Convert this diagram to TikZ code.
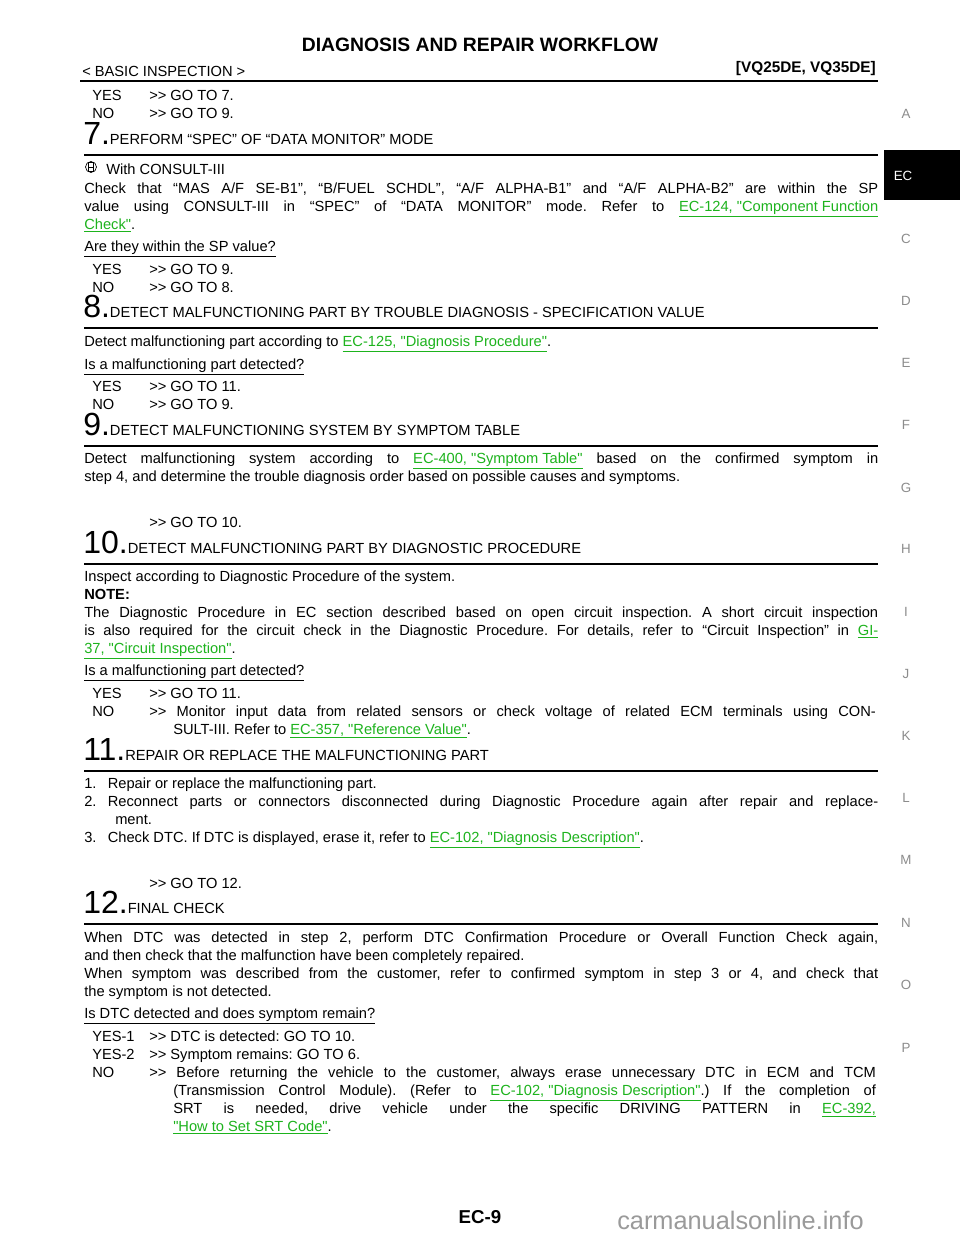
\documentclass[tikz,border=0pt]{standalone}
\usepackage{fontspec}
\setmainfont{Liberation Sans}
\newfontfamily\Lib{Liberation Sans}
\definecolor{lnk}{HTML}{1DB31D}
\definecolor{wm}{HTML}{9A9A9A}
\newcommand{\lk}[1]{\textcolor{lnk}{\underline{#1}}}
\tikzset{x=0.75pt,y=-0.75pt,
 txt/.style={anchor=base west,inner sep=0pt,font=\Lib\frenchspacing\fontsize{11}{13}\selectfont},
 tab/.style={anchor=center,inner sep=0pt,text=black!45,font=\Lib\fontsize{10}{12}\selectfont},
 rl/.style={line width=0.8pt}}
\newcommand{\Tx}[4]{\node[txt] (#1) at (#2,#3) {#4};}
\newcommand{\Jx}[3]{\node[txt] (#1) at (84,#2) {\makebox[595.5pt][s]{#3}};}
\newcommand{\YN}[4]{\node[txt] (#1a) at (92,#2) {#3}; \node[txt] (#1b) at (149,#2) {#4};}
\newcommand{\Hd}[4]{\node[txt] (#1) at (83,#2) {\fontsize{24}{24}\selectfont #3\fontsize{11}{13}\selectfont #4};}
\begin{document}
\begin{tikzpicture}
\useasboundingbox (0,0) rectangle (960,1242);
\fill[white] (0,0) rectangle (960,1242);
% header
\node[anchor=base,inner sep=0pt,font=\Lib\fontsize{14.5}{16}\selectfont\bfseries] (title) at (480,51) {DIAGNOSIS AND REPAIR WORKFLOW};
\Tx{sec}{82}{76}{< BASIC INSPECTION >}
\node[anchor=base east,inner sep=0pt,font=\Lib\fontsize{11.5}{13}\selectfont\bfseries] (eng) at (876,72) {[VQ25DE, VQ35DE]};
\draw[line width=1.6pt] (80,81) -- (878,81);
% tabs
\fill[black] (884,150) rectangle (960,200);
\node[tab,text=white] (tEC) at (903,176) {EC};
\foreach \l/\yy in {A/114,C/239,D/301,E/363,F/425,G/488,H/549,I/612,J/674,K/736,L/798,M/860,N/923,O/985,P/1048}
  \node[tab] (t\l) at (906,\yy) {\l};
% body
\YN{y6}{100}{YES}{>> GO TO 7.}
\YN{n6}{118}{NO}{>> GO TO 9.}
\Hd{h7}{144}{7.}{PERFORM “SPEC” OF “DATA MONITOR” MODE}
\draw[rl] (84,155) -- (878,155);
\draw[line width=0.5pt] (91,167) circle (5.5);
\draw[line width=0.5pt] (88.5,162.5) rectangle (93.5,171.5) (88.5,167) -- (93.5,167);
\Tx{wc}{106}{174}{With CONSULT-III}
\Jx{c1}{193}{Check that “MAS A/F SE-B1”, “B/FUEL SCHDL”, “A/F ALPHA-B1” and “A/F ALPHA-B2” are within the SP}
\Jx{c2}{211}{value using CONSULT-III in “SPEC” of “DATA MONITOR” mode. Refer to \lk{EC-124, "Component Function}}
\Tx{c3}{84}{229}{\lk{Check"}.}
\Tx{q7}{84}{251}{\underline{Are they within the SP value?}}
\YN{y7}{274}{YES}{>> GO TO 9.}
\YN{n7}{292}{NO}{>> GO TO 8.}
\Hd{h8}{317}{8.}{DETECT MALFUNCTIONING PART BY TROUBLE DIAGNOSIS - SPECIFICATION VALUE}
\draw[rl] (84,328) -- (878,328);
\Tx{d8}{84}{346}{Detect malfunctioning part according to \lk{EC-125, "Diagnosis Procedure"}.}
\Tx{q8}{84}{369}{\underline{Is a malfunctioning part detected?}}
\YN{y8}{391}{YES}{>> GO TO 11.}
\YN{n8}{409}{NO}{>> GO TO 9.}
\Hd{h9}{435}{9.}{DETECT MALFUNCTIONING SYSTEM BY SYMPTOM TABLE}
\draw[rl] (84,446) -- (878,446);
\Jx{d9a}{463}{Detect malfunctioning system according to \lk{EC-400, "Symptom Table"} based on the confirmed symptom in}
\Tx{d9b}{84}{481}{step 4, and determine the trouble diagnosis order based on possible causes and symptoms.}
\Tx{g9}{149}{527}{>> GO TO 10.}
\Hd{h10}{553}{10.}{DETECT MALFUNCTIONING PART BY DIAGNOSTIC PROCEDURE}
\draw[rl] (84,564) -- (878,564);
\Tx{i10}{84}{581}{Inspect according to Diagnostic Procedure of the system.}
\node[txt,font=\Lib\fontsize{11}{13}\selectfont\bfseries] (note) at (84,599) {NOTE:};
\Jx{n10a}{617}{The Diagnostic Procedure in EC section described based on open circuit inspection. A short circuit inspection}
\Jx{n10b}{635}{is also required for the circuit check in the Diagnostic Procedure. For details, refer to “Circuit Inspection” in \lk{GI-}}
\Tx{n10c}{84}{653}{\lk{37, "Circuit Inspection"}.}
\Tx{q10}{84}{675}{\underline{Is a malfunctioning part detected?}}
\YN{y10}{698}{YES}{>> GO TO 11.}
\node[txt] (n10x) at (92,716) {NO};
\node[txt] (n10y) at (149,716) {\makebox[545pt][s]{>> Monitor input data from related sensors or check voltage of related ECM terminals using CON-}};
\Tx{n10z}{173}{734}{SULT-III. Refer to \lk{EC-357, "Reference Value"}.}
\Hd{h11}{760}{11.}{REPAIR OR REPLACE THE MALFUNCTIONING PART}
\draw[rl] (84,771) -- (878,771);
\Tx{s1}{84}{788}{1.\hspace{8.5pt}Repair or replace the malfunctioning part.}
\node[txt] (s2) at (84,806) {\makebox[595.5pt][s]{2.\hspace{8.5pt}Reconnect parts or connectors disconnected during Diagnostic Procedure again after repair and replace-}};
\Tx{s2b}{115}{824}{ment.}
\Tx{s3}{84}{842}{3.\hspace{8.5pt}Check DTC. If DTC is displayed, erase it, refer to \lk{EC-102, "Diagnosis Description"}.}
\Tx{g11}{149}{888}{>> GO TO 12.}
\Hd{h12}{913}{12.}{FINAL CHECK}
\draw[rl] (84,924) -- (878,924);
\Jx{f1}{942}{When DTC was detected in step 2, perform DTC Confirmation Procedure or Overall Function Check again,}
\Tx{f2}{84}{960}{and then check that the malfunction have been completely repaired.}
\Jx{f3}{978}{When symptom was described from the customer, refer to confirmed symptom in step 3 or 4, and check that}
\Tx{f4}{84}{996}{the symptom is not detected.}
\Tx{q12}{84}{1018}{\underline{Is DTC detected and does symptom remain?}}
\YN{y12a}{1041}{YES-1}{>> DTC is detected: GO TO 10.}
\YN{y12b}{1059}{YES-2}{>> Symptom remains: GO TO 6.}
\node[txt] (n12a) at (92,1077) {NO};
\node[txt] (n12b) at (149,1077) {\makebox[545pt][s]{>> Before returning the vehicle to the customer, always erase unnecessary DTC in ECM and TCM}};
\node[txt] (n12c) at (173,1095) {\makebox[527pt][s]{(Transmission Control Module). (Refer to \lk{EC-102, "Diagnosis Description"}.) If the completion of}};
\node[txt] (n12d) at (173,1113) {\makebox[527pt][s]{SRT is needed, drive vehicle under the specific DRIVING PATTERN in \lk{EC-392,}}};
\Tx{n12e}{173}{1131}{\lk{"How to Set SRT Code"}.}
% footer
\node[anchor=base,inner sep=0pt,font=\Lib\fontsize{14}{16}\selectfont\bfseries] (pg) at (480,1223) {EC-9};
\node[anchor=base west,inner sep=0pt,text=wm,font=\Lib\fontsize{19}{20}\selectfont] (wmk) at (617,1229) {carmanualsonline.info};
\end{tikzpicture}
\end{document}
